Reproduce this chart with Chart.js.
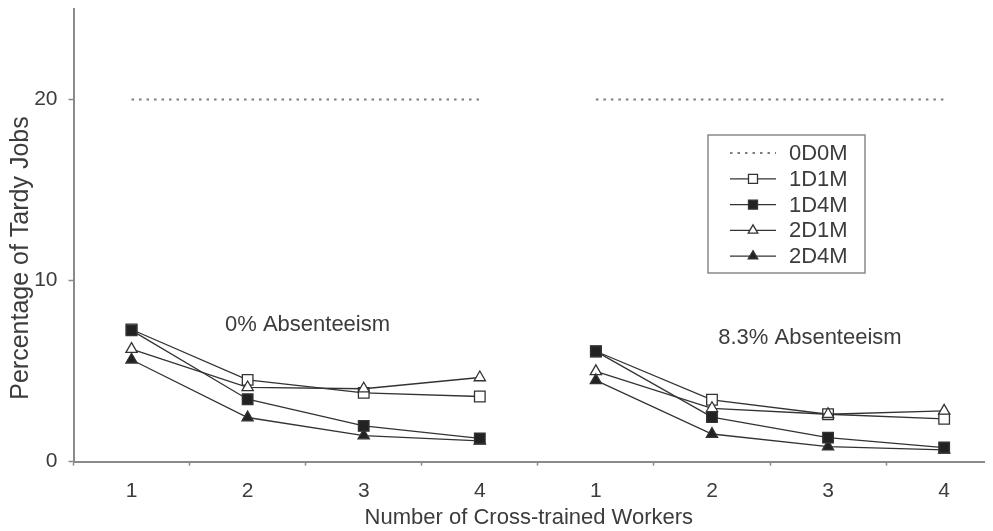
<!DOCTYPE html>
<html>
<head>
<meta charset="utf-8">
<script src="https://cdn.jsdelivr.net/npm/chart.js@4/dist/chart.umd.min.js"></script>
<style>
  html, body { margin: 0; padding: 0; background: #fff; overflow: hidden; }
  #wrap { width: 993px; height: 531px; }
</style>
</head>
<body>
<div id="wrap"><canvas id="c" width="993" height="531"></canvas></div>
<script>
// Two absenteeism levels, each with 1-4 cross-trained workers
const categories = ['1', '2', '3', '4', '1', '2', '3', '4'];
const yTicks = [0, 10, 20];
const seriesNames = ['0D0M', '1D1M', '1D4M', '2D1M', '2D4M'];
const s0D0M = [20, 20, 20, 20, 20, 20, 20, 20];
const s1D1M = [7.3, 4.52, 3.8, 3.6, 6.1, 3.42, 2.62, 2.37];
const s1D4M = [7.25, 3.45, 1.98, 1.29, 6.09, 2.46, 1.33, 0.78];
const s2D1M = [6.22, 4.1, 4.03, 4.65, 4.99, 2.95, 2.62, 2.81];
const s2D4M = [5.63, 2.44, 1.44, 1.15, 4.49, 1.53, 0.83, 0.65];
const panelTitles = ['0% Absenteeism', '8.3% Absenteeism'];
const yTitle = 'Percentage of Tardy Jobs';
const xTitle = 'Number of Cross-trained Workers';

const INK = '#333333';
const TEXT = '#3c3c3c';
const AXIS = '#8a8a8a';
const FONT = "'Liberation Sans', Arial, sans-serif";

const toPoints = arr => arr.map((v, i) => ({ x: i + 1, y: v }));
// no connecting segment between the two panels
const splitPanels = { borderColor: ctx => ctx.p0DataIndex === 3 ? 'rgba(0,0,0,0)' : undefined };

function series(label, values, extra) {
  return Object.assign({
    label,
    data: toPoints(values),
    borderColor: INK,
    borderWidth: 1.3,
    pointBorderColor: INK,
    pointBorderWidth: 1.3,
    tension: 0,
    segment: splitPanels
  }, extra);
}

const datasets = [
  series(seriesNames[0], s0D0M, { borderColor: '#7d7d7d', borderWidth: 2, borderDash: [2.5, 5], pointRadius: 0, order: 5 }),
  series(seriesNames[1], s1D1M, { pointStyle: 'rect', pointRadius: 7.5, pointBackgroundColor: '#fff', order: 4 }),
  series(seriesNames[2], s1D4M, { pointStyle: 'rect', pointRadius: 7.5, pointBackgroundColor: '#222', order: 0 }),
  series(seriesNames[3], s2D1M, { pointStyle: 'triangle', pointRadius: 6.5, pointBackgroundColor: '#fff', order: 3 }),
  series(seriesNames[4], s2D4M, { pointStyle: 'triangle', pointRadius: 6.5, pointBackgroundColor: '#222', order: 1 })
];

function drawMarker(ctx, style, x, y, r, fill) {
  ctx.save();
  ctx.beginPath();
  if (style === 'rect') {
    const h = r * Math.SQRT1_2;
    ctx.rect(x - h, y - h, 2 * h, 2 * h);
  } else if (style === 'triangle') {
    ctx.moveTo(x, y - r);
    ctx.lineTo(x + r * Math.sqrt(3) / 2, y + r / 2);
    ctx.lineTo(x - r * Math.sqrt(3) / 2, y + r / 2);
    ctx.closePath();
  }
  ctx.fillStyle = fill;
  ctx.fill();
  ctx.lineWidth = 1.3;
  ctx.strokeStyle = INK;
  ctx.stroke();
  ctx.restore();
}

// boxed legend with line-and-marker samples
const boxLegend = {
  id: 'boxLegend',
  afterDraw(chart, args, opts) {
    const ctx = chart.ctx;
    ctx.save();
    ctx.strokeStyle = AXIS;
    ctx.lineWidth = 1.5;
    ctx.strokeRect(opts.left, opts.top, opts.width, opts.height);
    ctx.font = opts.font;
    ctx.fillStyle = TEXT;
    ctx.textBaseline = 'middle';
    ctx.textAlign = 'left';
    chart.data.datasets.forEach((ds, i) => {
      const y = opts.top + opts.firstRow + i * opts.rowGap;
      const x0 = opts.left + opts.sampleStart;
      const x1 = x0 + opts.sampleLength;
      ctx.save();
      ctx.beginPath();
      ctx.strokeStyle = ds.borderColor;
      ctx.lineWidth = ds.borderWidth;
      ctx.setLineDash(ds.borderDash || []);
      ctx.moveTo(x0, y);
      ctx.lineTo(x1, y);
      ctx.stroke();
      ctx.restore();
      if (ds.pointRadius > 0) {
        drawMarker(ctx, ds.pointStyle, (x0 + x1) / 2, y, ds.pointRadius * 0.85, ds.pointBackgroundColor);
      }
      ctx.fillText(ds.label, opts.left + opts.textStart, y + 1);
    });
    ctx.restore();
  }
};

// panel captions placed in data coordinates, plus the rotated y-axis title
const panelLabels = {
  id: 'panelLabels',
  afterDatasetsDraw(chart, args, opts) {
    const { ctx, scales } = chart;
    ctx.save();
    ctx.font = opts.font;
    ctx.fillStyle = TEXT;
    ctx.textAlign = 'center';
    ctx.textBaseline = 'middle';
    opts.items.forEach(it => {
      ctx.fillText(it.text, scales.x.getPixelForValue(it.x), scales.y.getPixelForValue(it.y));
    });
    ctx.translate(opts.yTitleX, opts.yTitleY);
    ctx.rotate(-Math.PI / 2);
    ctx.font = opts.yTitleFont;
    ctx.fillText(yTitle, 0, 0);
    ctx.restore();
  }
};

const noPadding = s => { s.paddingTop = 0; s.paddingBottom = 0; s.paddingLeft = 0; s.paddingRight = 0; };

new Chart(document.getElementById('c'), {
  type: 'line',
  data: { datasets },
  plugins: [boxLegend, panelLabels],
  options: {
    responsive: false,
    animation: false,
    layout: { padding: { top: 9, right: 0, left: 0, bottom: 0 } },
    scales: {
      x: {
        type: 'linear',
        min: 0.5,
        max: 8.345,
        afterBuildTicks: s => {
          const t = [];
          for (let v = 0.5; v <= categories.length + 0.01; v += 0.5) t.push({ value: v });
          s.ticks = t;
        },
        afterFit: s => { s.height = 69.3; noPadding(s); },
        border: { color: AXIS, width: 2 },
        grid: {
          drawOnChartArea: false,
          tickLength: 4,
          tickWidth: 1.5,
          color: ctx => (ctx.tick && ctx.tick.value % 1 !== 0) ? AXIS : 'rgba(0,0,0,0)'
        },
        ticks: {
          autoSkip: false,
          maxRotation: 0,
          padding: 13,
          color: TEXT,
          font: { family: FONT, size: 21 },
          callback: v => (v % 1 === 0) ? categories[v - 1] : ''
        },
        title: {
          display: true,
          text: xTitle,
          color: TEXT,
          font: { family: FONT, size: 22 },
          padding: { top: 0, bottom: 0 }
        }
      },
      y: {
        min: 0,
        max: 25,
        afterBuildTicks: s => { s.ticks = yTicks.map(v => ({ value: v })); },
        afterFit: s => { s.width = 73.5; noPadding(s); },
        border: { color: AXIS, width: 2 },
        grid: { drawOnChartArea: false, tickLength: 5, tickWidth: 1.5, color: AXIS },
        ticks: { padding: 11, color: TEXT, font: { family: FONT, size: 21 } }
      }
    },
    plugins: {
      legend: { display: false },
      tooltip: { enabled: false },
      boxLegend: {
        left: 708, top: 135, width: 157, height: 138,
        firstRow: 18, rowGap: 25.8,
        sampleStart: 22, sampleLength: 46, textStart: 81,
        font: "22px " + FONT
      },
      panelLabels: {
        font: "22px " + FONT,
        items: [
          { text: panelTitles[0], x: 2.516, y: 7.54 },
          { text: panelTitles[1], x: 6.844, y: 6.86 }
        ],
        yTitleX: 21, yTitleY: 258,
        yTitleFont: "25px " + FONT
      }
    }
  }
});
</script>
</body>
</html>
